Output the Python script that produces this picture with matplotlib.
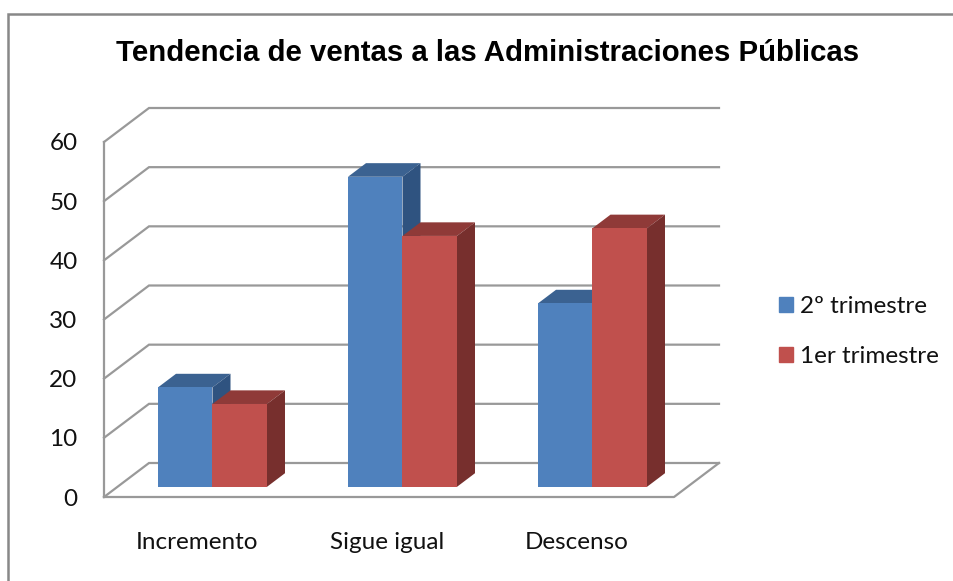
import numpy as np
import matplotlib.pyplot as plt
from matplotlib.lines import Line2D
from matplotlib.patches import Patch

categorias = ["Incremento", "Sigue igual", "Descenso"]
trim2 = [16.8, 52.4, 31.0]
trim1 = [14.0, 42.4, 43.7]
ticks_y = [0, 10, 20, 30, 40, 50, 60]
titulo = "Tendencia de ventas a las Administraciones Públicas"

W, H = 954, 581
DX = 45 / 190.0   # pomeraj dubine po x (kategorije)
DY = 34 / 5.917   # pomeraj dubine po y (vrednosti)
Z1, Z2 = 0.30, 0.70  # prednja i zadnja strana stubica
sirina = 54.5 / 190.0
siva = "#999999"

plt.rcParams['font.family'] = ['Lato', 'DejaVu Sans']

fig = plt.figure(figsize=(W / 100, H / 100), dpi=100)
ax = fig.add_axes([104 / W, (H - 497) / H, 570 / W, 355 / H])
ax.set_xlim(0, 3)
ax.set_ylim(0, 60)
for s in ax.spines.values():
    s.set_visible(False)
ax.patch.set_visible(False)


def p(x, y, z):
    return x + z * DX, y + z * DY


def strana(tacke, boja, zorder):
    xs, ys = zip(*[p(*t) for t in tacke])
    ax.fill(xs, ys, color=boja, lw=0, zorder=zorder, clip_on=False)


# zadnji zid i pod
for v in ticks_y:
    x0, y0 = p(0, v, 0)
    x1, y1 = p(0, v, 1)
    x2, y2 = p(3, v, 1)
    ax.plot([x0, x1, x2], [y0, y1, y2], color=siva, lw=1.6, zorder=1,
            clip_on=False, solid_joinstyle="miter")
ax.plot([0, 0], [0, 60], color=siva, lw=1.6, zorder=1, clip_on=False)
ax.plot([0, 3, 3 + DX], [0, 0, DY], color=siva, lw=1.6, zorder=1, clip_on=False)


def stubic(x0, x1, v, prednja, bok, gore, zorder):
    strana([(x0, v, Z1), (x1, v, Z1), (x1, v, Z2), (x0, v, Z2)], gore, zorder)
    strana([(x1, 0, Z1), (x1, v, Z1), (x1, v, Z2), (x1, 0, Z2)], bok, zorder)
    strana([(x0, 0, Z1), (x1, 0, Z1), (x1, v, Z1), (x0, v, Z1)], prednja, zorder)


for i in range(len(categorias)):
    c = i + 0.5
    stubic(c - sirina, c, trim2[i], "#4F81BD", "#2F5380", "#3B6291", 3)
    stubic(c, c + sirina, trim1[i], "#C0504D", "#772F2D", "#8F3A38", 4)

ax.set_yticks(ticks_y)
ax.set_xticks([0.49, 1.49, 2.49])
ax.set_xticklabels(categorias)
ax.tick_params(axis="y", length=0, pad=19, labelsize=17.5, labelcolor="#111111")
ax.tick_params(axis="x", length=0, pad=25, labelsize=17.5, labelcolor="#111111")

fig.text(488 / W, 1 - 53 / H, titulo, ha="center", va="center", fontsize=21.2,
         fontweight="bold", family=["Liberation Sans"], color="black")

ax.legend(handles=[Patch(color="#4F81BD", label="2º trimestre"),
                   Patch(color="#C0504D", label="1er trimestre")],
          loc="center left", bbox_to_anchor=(779 / W, 1 - 331.5 / H),
          bbox_transform=fig.transFigure, frameon=False, fontsize=17.5,
          handlelength=0.58, handleheight=0.58, handletextpad=0.3,
          labelspacing=1.2, borderpad=0, borderaxespad=0, labelcolor="#111111")

# okvir grafikona (samo gore i levo)
fig.add_artist(Line2D([8.5 / W, 8.5 / W, 1], [0, 1 - 13.5 / H, 1 - 13.5 / H],
                      color="#888888", lw=1.8, solid_joinstyle="miter"))

fig.savefig("out.png", dpi=100)
